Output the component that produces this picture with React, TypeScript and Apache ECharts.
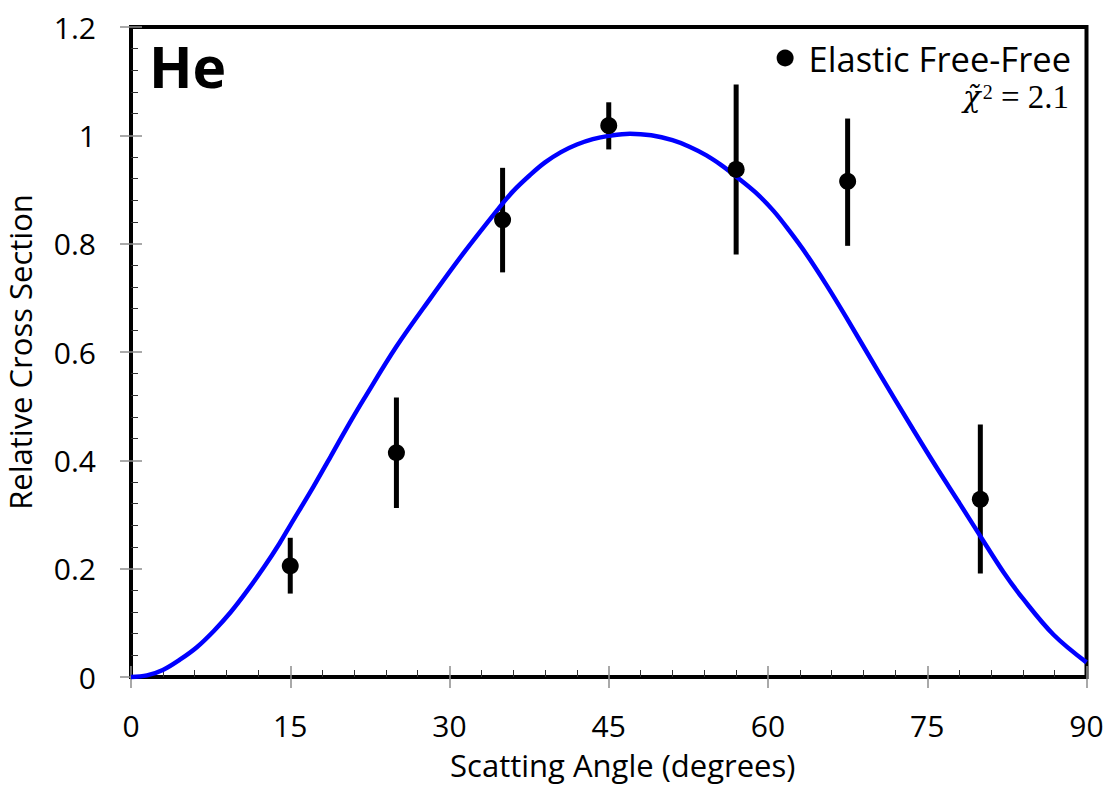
import React, { useEffect, useRef } from "react";
import * as echarts from "echarts";

// Measured data points (scattering angle in degrees)
const angles = [15, 25, 35, 45, 57, 67.5, 80];
const values = [0.205, 0.414, 0.844, 1.018, 0.937, 0.915, 0.328];
const errLow = [0.154, 0.312, 0.747, 0.974, 0.78, 0.796, 0.191];
const errHigh = [0.257, 0.516, 0.94, 1.061, 1.094, 1.031, 0.466];

// Fit curve
const curveX = [0, 1.5, 3, 4.6, 6.2, 7.8, 9.4, 10.9, 12.5, 14, 15, 17.2, 18.8, 20.6, 21.9, 25, 28.2, 31.3, 34.5, 36, 37.6, 39, 40.5, 42, 43.5, 45, 47, 49, 51, 52.6, 54.2, 55.6, 57, 58.8, 60.5, 62, 63.6, 65.5, 67.4, 70.5, 73.7, 76, 78, 80, 82.2, 84, 86.9, 90];
const curveY = [0, 0.003, 0.013, 0.032, 0.055, 0.085, 0.12, 0.158, 0.202, 0.247, 0.28, 0.352, 0.407, 0.469, 0.512, 0.61, 0.699, 0.782, 0.862, 0.897, 0.927, 0.95, 0.969, 0.983, 0.993, 0.999, 1.003, 1.0, 0.991, 0.979, 0.963, 0.945, 0.924, 0.895, 0.861, 0.824, 0.781, 0.724, 0.663, 0.56, 0.456, 0.383, 0.322, 0.26, 0.193, 0.145, 0.078, 0.027];

const xTicks = { min: 0, max: 90, interval: 15 };
const yTicks = { min: 0, max: 1.2, interval: 0.2 };

const seriesName = "Elastic Free-Free";
const panelLabel = "He";
const xName = "Scatting Angle (degrees)";
const yName = "Relative Cross Section";

const FONT = "Open Sans";

export default function App() {
  const ref = useRef<HTMLDivElement>(null);
  useEffect(() => {
    if (!ref.current) return;
    const chart = echarts.init(ref.current, null, { renderer: "svg" });
    const majorTickStyle = { color: "#8c8c8c", width: 1.5 };
    const minorTickStyle = { color: "#333", width: 1 };
    const option: any = {
      animation: false,
      backgroundColor: "#fff",
      textStyle: { fontFamily: FONT },
      grid: {
        left: 131,
        right: 22.5,
        top: 27,
        bottom: 112,
        containLabel: false,
        outerBoundsMode: "none",
        show: true,
        borderColor: "#000",
        borderWidth: 4,
        backgroundColor: "transparent",
      },
      legend: {
        data: [{ name: seriesName, icon: "circle" }],
        right: 36,
        top: 38,
        padding: 2,
        itemWidth: 17,
        itemHeight: 17,
        textStyle: { fontFamily: FONT, fontSize: 34.5, lineHeight: 36, color: "#000", padding: [0, 0, 0, 10] },
        selectedMode: false,
      },
      xAxis: [
        {
          type: "value",
          position: "bottom",
          ...xTicks,
          name: xName,
          nameLocation: "middle",
          nameGap: 72,
          nameTextStyle: { fontFamily: FONT, fontSize: 31, color: "#000", padding: [0, 0, 0, 28] },
          axisLine: { show: false },
          axisTick: { show: true, inside: true, length: 11, lineStyle: majorTickStyle },
          minorTick: { show: true, splitNumber: 5, length: 7, lineStyle: minorTickStyle },
          axisLabel: { fontFamily: FONT, fontSize: 30, color: "#000", margin: 33 },
          splitLine: { show: false },
        },
        {
          type: "value",
          position: "bottom",
          offset: 0,
          ...xTicks,
          axisLine: { show: false },
          axisTick: { show: true, inside: false, length: 11, lineStyle: majorTickStyle },
          axisLabel: { show: false },
          splitLine: { show: false },
        },
      ],
      yAxis: [
        {
          type: "value",
          position: "left",
          ...yTicks,
          name: yName,
          nameLocation: "middle",
          nameGap: 96,
          nameTextStyle: { fontFamily: FONT, fontSize: 31, color: "#000" },
          axisLine: { show: false },
          axisTick: { show: true, inside: true, length: 11, lineStyle: majorTickStyle },
          minorTick: { show: true, splitNumber: 5, length: 7, lineStyle: minorTickStyle },
          axisLabel: { fontFamily: FONT, fontSize: 30, color: "#000", margin: 35, align: "right" },
          splitLine: { show: false },
        },
        {
          type: "value",
          position: "left",
          offset: 0,
          ...yTicks,
          axisLine: { show: false },
          axisTick: { show: true, inside: false, length: 11, lineStyle: majorTickStyle },
          axisLabel: { show: false },
          splitLine: { show: false },
        },
      ],
      graphic: [
        {
          type: "text",
          left: 149,
          top: 37,
          style: {
            text: panelLabel,
            fontFamily: FONT,
            fontWeight: "bold",
            fontSize: 57,
            fill: "#000",
          },
        },
        {
          type: "text",
          right: 40,
          top: 80,
          style: {
            text: "{x|χ̃}{s|2}{n| = 2.1}",
            rich: {
              x: { fontFamily: "DejaVu Serif", fontStyle: "italic", fontSize: 29, lineHeight: 30, fill: "#000" },
              s: { fontFamily: "Liberation Serif", fontSize: 20, lineHeight: 20, verticalAlign: "top", padding: [0, 0, 0, 2], fill: "#000" },
              n: { fontFamily: "Liberation Serif", fontSize: 33, lineHeight: 30, fill: "#000" },
            },
          },
        },
      ],
      series: [
        {
          type: "custom",
          name: "errors",
          xAxisIndex: 0,
          yAxisIndex: 0,
          z: 1,
          silent: true,
          renderItem: (params: any, api: any) => {
            const x = api.value(0);
            const p1 = api.coord([x, api.value(1)]);
            const p2 = api.coord([x, api.value(2)]);
            return {
              type: "line",
              shape: { x1: p1[0], y1: p1[1], x2: p2[0], y2: p2[1] },
              style: { stroke: "#000", lineWidth: 5 },
            };
          },
          data: angles.map((a, i) => [a, errLow[i], errHigh[i]]),
        },
        {
          type: "line",
          name: "fit",
          xAxisIndex: 0,
          yAxisIndex: 0,
          z: 2,
          showSymbol: false,
          smooth: 0.35,
          clip: false,
          lineStyle: { color: "#0000ff", width: 4.5 },
          data: curveX.map((x, i) => [x, curveY[i]]),
        },
        {
          type: "scatter",
          name: seriesName,
          xAxisIndex: 0,
          yAxisIndex: 0,
          z: 3,
          symbol: "circle",
          symbolSize: 17,
          itemStyle: { color: "#000", opacity: 1 },
          data: angles.map((a, i) => [a, values[i]]),
        },
      ],
    };
    chart.setOption(option);
    return () => chart.dispose();
  }, []);
  return <div ref={ref} style={{ width: 1109, height: 789, position: "absolute", left: 0, top: 0 }} />;
}
